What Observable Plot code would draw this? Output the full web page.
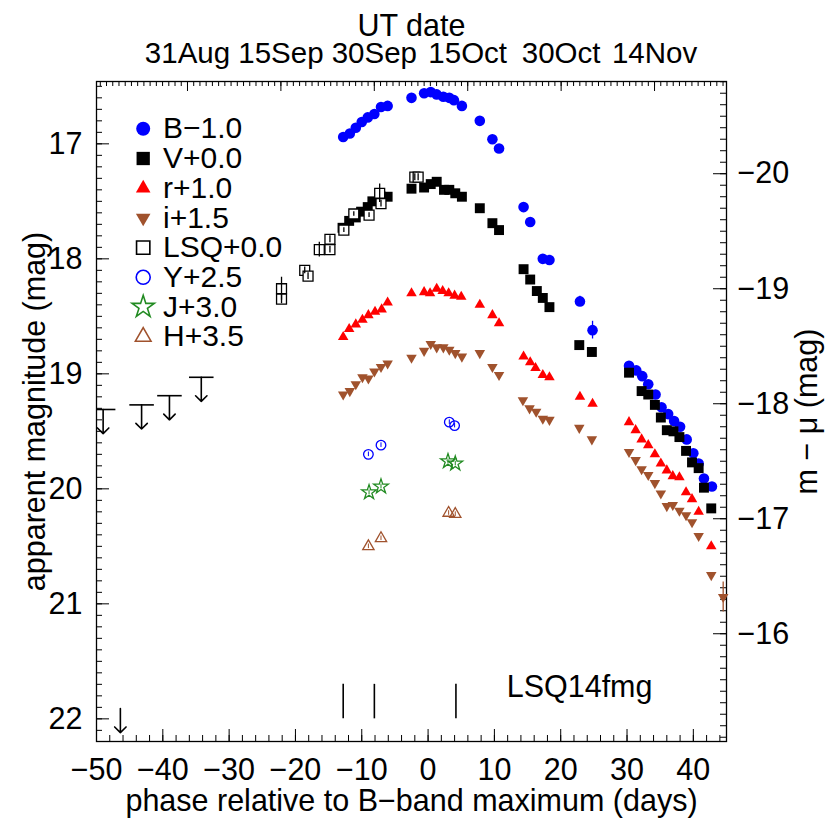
<!DOCTYPE html>
<html><head><meta charset="utf-8">
<script src="https://cdn.jsdelivr.net/npm/d3@7"></script>
<script src="https://cdn.jsdelivr.net/npm/@observablehq/plot@0.6"></script>
<style>body{margin:0;background:#fff}</style>
</head><body><div id="chart"></div>
<script>
// ---------- data (rest-frame phase in days, apparent magnitude) ----------
const bPhase = [-12.8,-11.8,-10.9,-10.0,-9.1,-8.1,-7.1,-6.1,-2.5,-0.6,0.4,1.3,2.3,3.2,3.9,5.1,7.8,9.7,10.7,14.4,15.4,17.3,18.3,22.9,24.8,30.3,31.4,32.3,33.2,34.3,35.2,36.2,37.1,38.0,39.0,40.0,40.8,41.6,42.8];
const bMag   = [17.94,17.91,17.86,17.81,17.77,17.74,17.68,17.67,17.60,17.56,17.55,17.57,17.59,17.60,17.62,17.67,17.80,17.96,18.04,18.55,18.68,19.00,19.01,19.37,19.62,19.93,19.97,20.02,20.09,20.18,20.29,20.35,20.41,20.46,20.57,20.69,20.78,20.91,20.98];
const bErr   = [0,0,0,0,0,0,0,0,0,0,0,0,0,0,0,0,0,0,0,0,0,0,0,0.045,0.077,0,0,0,0,0,0,0,0,0,0,0,0,0,0];

const vPhase = [-12.9,-11.9,-10.9,-10.1,-9.1,-8.4,-7.1,-6.1,-2.5,-0.6,0.4,1.3,2.4,3.2,4.1,5.1,7.8,9.7,10.7,14.4,15.4,16.4,17.3,18.3,22.8,24.7,30.3,32.2,33.2,34.2,35.1,36.0,37.0,37.9,38.9,39.8,40.8,41.6,42.7];
const vMag   = [17.73,17.67,17.64,17.59,17.55,17.50,17.46,17.46,17.39,17.38,17.35,17.33,17.40,17.40,17.43,17.46,17.56,17.69,17.75,18.09,18.18,18.28,18.34,18.42,18.75,18.81,18.99,19.15,19.18,19.27,19.38,19.49,19.50,19.55,19.67,19.77,19.82,19.99,20.17];

const rPhase = [-12.8,-11.9,-10.9,-9.9,-9.0,-8.0,-7.0,-6.1,-2.5,-0.6,0.3,1.3,2.2,3.1,4.0,5.0,7.8,9.7,10.7,14.4,15.4,16.2,17.3,18.3,22.9,24.8,30.3,31.3,32.2,33.2,34.2,35.1,36.0,36.9,37.9,38.9,39.8,40.8,42.7];
const rMag   = [17.68,17.61,17.57,17.53,17.49,17.46,17.44,17.38,17.30,17.29,17.30,17.26,17.28,17.30,17.32,17.33,17.40,17.49,17.56,17.85,17.90,17.95,18.01,18.03,18.20,18.26,18.42,18.49,18.57,18.62,18.70,18.78,18.84,18.89,18.90,19.03,19.09,19.20,19.50];

const iPhase = [-12.8,-11.8,-10.9,-9.9,-9.0,-8.1,-7.1,-6.1,-2.5,-0.6,0.4,1.3,2.3,3.2,4.1,5.1,7.8,9.7,10.7,14.3,15.3,16.3,17.3,18.3,22.8,24.7,30.3,31.3,32.2,33.2,34.2,35.1,36.0,36.9,37.9,38.9,39.8,40.8,42.7,44.5];
const iMag   = [17.68,17.65,17.59,17.53,17.54,17.48,17.44,17.41,17.36,17.30,17.24,17.27,17.27,17.29,17.32,17.35,17.32,17.44,17.51,17.73,17.80,17.83,17.89,17.90,17.97,18.07,18.18,18.25,18.33,18.38,18.45,18.54,18.65,18.64,18.69,18.73,18.79,18.91,19.25,19.44];
const iErr   = [0,0,0,0,0,0,0,0,0,0,0,0,0,0,0,0,0,0,0,0,0,0,0,0,0,0,0,0,0,0,0,0,0,0,0,0,0,0,0,0.13];

const lsqPhase = [-22.1,-22.1,-18.6,-18.1,-16.4,-14.8,-14.8,-12.7,-11.2,-8.9,-7.3,-7.1,-2.0,-1.5];
const lsqMag   = [18.26,18.35,18.10,18.15,17.92,17.83,17.92,17.75,17.61,17.62,17.43,17.52,17.29,17.29];
const lsqErr   = [0.10,0.04,0.03,0.03,0.065,0.03,0.03,0.02,0.02,0.02,0.08,0.03,0.03,0.03];

const yPhase = [-9.0,-7.1,3.2,4.0];
const yMag   = [17.20,17.12,16.92,16.95];
const jPhase = [-8.9,-7.1,3.0,4.1];
const jMag   = [17.03,16.98,16.76,16.78];
const hPhase = [-9.0,-7.1,3.1,4.1];
const hMag   = [17.00,16.93,16.71,16.72];
const nirErr = 0.02;

// upper limits (LSQ pre-discovery)
const limPhase = [-49.0,-43.2,-39.0,-34.2];
const limMag   = [19.31,19.27,19.19,19.03];
const deepLimPhase = [-46.4];
const deepLimMag   = [21.91];

// spectroscopic epochs
const specPhase = [-12.8,-8.1,4.2];

// band labels, offsets
const bands = ["B","V","r","i","LSQ","Y","J","H"];
const offsets = [-1.0,0.0,1.0,1.5,0.0,2.5,3.0,3.5];
const legendLabels = ["B\u22121.0","V+0.0","r+1.0","i+1.5","LSQ+0.0","Y+2.5","J+3.0","H+3.5"];

// axes
const xTicks = [-50,-40,-30,-20,-10,0,10,20,30,40];
const yTicks = [17,18,19,20,21,22];
const absTicks = [-20,-19,-18,-17,-16];
const distMod = 37.26;
const dateLabels = ["31Aug","15Sep","30Sep","15Oct","30Oct","14Nov"];
const firstDatePhase = -36.28;
const redshift = 0.0649;
const xDomain = [-50,45];
const yDomain = [22.197,16.458];

// ---------- build ----------
const zip = (p, m, off, e) => p.map((d,i) => ({p: d, m: m[i] + off, e: e ? e[i] : 0}));
const B = zip(bPhase, bMag, offsets[0], bErr);
const V = zip(vPhase, vMag, offsets[1]);
const R = zip(rPhase, rMag, offsets[2]);
const I = zip(iPhase, iMag, offsets[3], iErr);
const L = zip(lsqPhase, lsqMag, offsets[4], lsqErr);
const Y = zip(yPhase, yMag, offsets[5]);
const J = zip(jPhase, jMag, offsets[6]);
const H = zip(hPhase, hMag, offsets[7]);

const triDown = {draw(ctx, size){
  const y = -Math.sqrt(size / (Math.sqrt(3) * 3));
  ctx.moveTo(0, -y*2); ctx.lineTo(-Math.sqrt(3)*y, y); ctx.lineTo(Math.sqrt(3)*y, y); ctx.closePath();
}};

const W = 830, Hh = 830, mL = 96, mR = 104, mT = 81, mB = 89;
const fw = W - mL - mR, fh = Hh - mT - mB;
const FS = 30.5;
const minus = d => d < 0 ? "\u2212" + (-d) : String(d);

const yLo = Math.min(...yDomain), yHi = Math.max(...yDomain);
const inY = v => v >= yLo - 1e-9 && v <= yHi + 1e-9;
const obsDay = 1 / (1 + redshift);
const dateStep = 15 * obsDay;
const dateTicks = dateLabels.map((d,i) => firstDatePhase + i*dateStep);
const dayTicks = [];
for (let t = firstDatePhase - Math.floor((firstDatePhase - xDomain[0]) / obsDay) * obsDay; t <= xDomain[1]; t += obsDay) dayTicks.push(t);
const xMinor = d3.range(xDomain[0], xDomain[1] + 0.01, 2);
const yMinor = d3.range(165, 223).map(k => k / 10).filter(inY);
const absMinor = d3.range(-209, -149).map(k => k / 10).filter(v => inY(v + distMod));

const err = (data, color) => Plot.ruleX(data.filter(d => d.e > 0), {x: "p", y1: d => d.m - d.e, y2: d => d.m + d.e, stroke: color, strokeWidth: 1.3});

const T = (data, opts) => Plot.text(data, {fontSize: FS, lineAnchor: "middle", ...opts});

const legendStyle = [
  {symbol: "circle", r: 7, fill: "blue"},
  {symbol: "square", r: 7.5, fill: "black"},
  {symbol: "triangle", r: 5.4, fill: "red"},
  {symbol: triDown, r: 5.4, fill: "#a0522d"},
  {symbol: "square", r: 7.5, fill: "none", stroke: "black", strokeWidth: 1.6},
  {symbol: "circle", r: 7, fill: "none", stroke: "blue", strokeWidth: 1.6},
  {symbol: "star", r: 7, fill: "none", stroke: "#228b22", strokeWidth: 1.6},
  {symbol: "triangle", r: 5.8, fill: "none", stroke: "#a0522d", strokeWidth: 1.6}
];
const legendMarks = [];
bands.forEach((b, i) => {
  const dy = 47.3 + i * 29.7;
  legendMarks.push(Plot.dot([b], {frameAnchor: "top-left", dx: 46.7, dy, ...legendStyle[i]}));
  legendMarks.push(T([legendLabels[i]], {frameAnchor: "top-left", dx: 66.5, dy: dy, text: d => d, textAnchor: "start", fontSize: 30}));
});

const chart = Plot.plot({
  width: W, height: Hh,
  marginLeft: mL, marginRight: mR, marginTop: mT, marginBottom: mB,
  x: {domain: xDomain, axis: null},
  y: {domain: yDomain, axis: null},
  style: {fontFamily: "Helvetica, 'Liberation Sans', Arial, sans-serif", background: "white", color: "black", overflow: "visible"},
  marks: [
    // ticks (inward)
    Plot.ruleX(xTicks, {x: d => d, insetTop: fh - 12, stroke: "black"}),
    Plot.ruleX(xMinor, {x: d => d, insetTop: fh - 6, stroke: "black"}),
    Plot.ruleX(dateTicks, {x: d => d, insetBottom: fh - 10, stroke: "black"}),
    Plot.ruleX(dayTicks, {x: d => d, insetBottom: fh - 5, stroke: "black"}),
    Plot.ruleY(yTicks, {y: d => d, insetRight: fw - 13, stroke: "black"}),
    Plot.ruleY(yMinor, {y: d => d, insetRight: fw - 6, stroke: "black"}),
    Plot.ruleY(absTicks, {y: d => d + distMod, insetLeft: fw - 13, stroke: "black"}),
    Plot.ruleY(absMinor, {y: d => d + distMod, insetLeft: fw - 6, stroke: "black"}),
    Plot.frame({stroke: "black", strokeWidth: 1.3}),
    // tick labels & titles
    T(xTicks, {x: d => d, frameAnchor: "bottom", dy: 29, text: minus}),
    T(yTicks, {y: d => d, frameAnchor: "left", dx: -14, textAnchor: "end", text: d => String(d)}),
    T(absTicks, {y: d => d + distMod, frameAnchor: "right", dx: 11, textAnchor: "start", text: minus}),
    T(dateLabels, {x: (d, i) => dateTicks[i], frameAnchor: "top", dy: -28.3, text: d => d, fontSize: 29.5}),
    T(["UT date"], {frameAnchor: "top", dy: -55.3, text: d => d}),
    T(["phase relative to B\u2212band maximum (days)"], {frameAnchor: "bottom", dy: 60, text: d => d}),
    T(["apparent magnitude (mag)"], {frameAnchor: "left", dx: -61, rotate: -90, textAnchor: "middle", text: d => d}),
    T(["m \u2212 \u03bc (mag)"], {frameAnchor: "right", dx: 81, rotate: -90, textAnchor: "middle", text: d => d}),
    T(["LSQ14fmg"], {frameAnchor: "bottom-right", dx: -74, dy: -54.3, textAnchor: "end", text: d => d}),
    // spectral epochs
    Plot.ruleX(specPhase, {x: d => d, y1: 21.70, y2: 22.0, stroke: "black", strokeWidth: 1.6}),
    // upper limits
    Plot.link(limPhase, {x1: d => Math.max(xDomain[0], d - 1.85), x2: d => d + 1.85, y1: (d, i) => limMag[i], y2: (d, i) => limMag[i], stroke: "black", strokeWidth: 1.6}),
    Plot.arrow(limPhase, {x1: d => d, x2: d => d, y1: (d, i) => limMag[i], y2: (d, i) => limMag[i] + 0.21, stroke: "black", strokeWidth: 1.6, headLength: 9, headAngle: 90}),
    Plot.arrow(deepLimPhase, {x1: d => d, x2: d => d, y1: (d, i) => deepLimMag[i], y2: (d, i) => deepLimMag[i] + 0.21, stroke: "black", strokeWidth: 1.6, headLength: 9, headAngle: 90}),
    // photometry
    err(B, "blue"),
    Plot.dot(B, {x: "p", y: "m", symbol: "circle", r: 5.3, fill: "blue"}),
    Plot.dot(V, {x: "p", y: "m", symbol: "square", r: 5.6, fill: "black"}),
    Plot.dot(L, {x: "p", y: "m", symbol: "square", r: 5.6, fill: "white", stroke: "black", strokeWidth: 1.3}),
    err(L, "black"),
    Plot.dot(R, {x: "p", y: "m", symbol: "triangle", r: 3.9, fill: "red"}),
    err(I, "#a0522d"),
    Plot.dot(I, {x: "p", y: "m", symbol: triDown, r: 3.9, fill: "#a0522d"}),
    Plot.dot(Y, {x: "p", y: "m", symbol: "circle", r: 4.8, fill: "none", stroke: "blue", strokeWidth: 1.3}),
    Plot.ruleX(Y, {x: "p", y1: d => d.m - nirErr, y2: d => d.m + nirErr, stroke: "blue"}),
    Plot.dot(J, {x: "p", y: "m", symbol: "star", r: 4.6, fill: "none", stroke: "#228b22", strokeWidth: 1.3}),
    Plot.ruleX(J, {x: "p", y1: d => d.m - nirErr, y2: d => d.m + nirErr, stroke: "#228b22"}),
    Plot.dot(H, {x: "p", y: "m", symbol: "triangle", r: 4.2, fill: "none", stroke: "#a0522d", strokeWidth: 1.3}),
    Plot.ruleX(H, {x: "p", y1: d => d.m - nirErr, y2: d => d.m + nirErr, stroke: "#a0522d"}),
    ...legendMarks
  ]
});
document.getElementById("chart").append(chart);
</script></body></html>
